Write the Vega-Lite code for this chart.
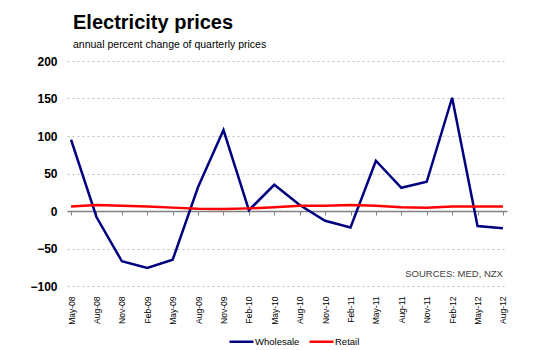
{
  "$schema": "https://vega.github.io/schema/vega-lite/v6.json",
  "width": 440,
  "height": 225,
  "autosize": {"type": "none"},
  "padding": {"left": 67, "top": 61, "right": 43, "bottom": 64},
  "background": "#ffffff",
  "config": {
    "view": {"stroke": null},
    "font": "Liberation Sans"
  },
  "title": {
    "text": "Electricity prices",
    "subtitle": "annual percent change of quarterly prices",
    "anchor": "start",
    "frame": "group",
    "font": "Liberation Sans",
    "fontSize": 20,
    "fontWeight": "bold",
    "color": "#000000",
    "subtitleFont": "Liberation Sans",
    "subtitleFontSize": 10.5,
    "subtitleColor": "#000000",
    "subtitlePadding": 7,
    "offset": 5,
    "dx": 6
  },
  "data": {
    "values": [
      {"date": "May-08", "series": "Wholesale", "value": 95},
      {"date": "Aug-08", "series": "Wholesale", "value": -8},
      {"date": "Nov-08", "series": "Wholesale", "value": -67},
      {"date": "Feb-09", "series": "Wholesale", "value": -76},
      {"date": "May-09", "series": "Wholesale", "value": -65},
      {"date": "Aug-09", "series": "Wholesale", "value": 32},
      {"date": "Nov-09", "series": "Wholesale", "value": 108},
      {"date": "Feb-10", "series": "Wholesale", "value": 1},
      {"date": "May-10", "series": "Wholesale", "value": 35},
      {"date": "Aug-10", "series": "Wholesale", "value": 8},
      {"date": "Nov-10", "series": "Wholesale", "value": -13},
      {"date": "Feb-11", "series": "Wholesale", "value": -22},
      {"date": "May-11", "series": "Wholesale", "value": 67},
      {"date": "Aug-11", "series": "Wholesale", "value": 31},
      {"date": "Nov-11", "series": "Wholesale", "value": 39},
      {"date": "Feb-12", "series": "Wholesale", "value": 151},
      {"date": "May-12", "series": "Wholesale", "value": -20},
      {"date": "Aug-12", "series": "Wholesale", "value": -23},
      {"date": "May-08", "series": "Retail", "value": 6},
      {"date": "Aug-08", "series": "Retail", "value": 8},
      {"date": "Nov-08", "series": "Retail", "value": 7},
      {"date": "Feb-09", "series": "Retail", "value": 6},
      {"date": "May-09", "series": "Retail", "value": 4.5},
      {"date": "Aug-09", "series": "Retail", "value": 3},
      {"date": "Nov-09", "series": "Retail", "value": 2.7},
      {"date": "Feb-10", "series": "Retail", "value": 3.5},
      {"date": "May-10", "series": "Retail", "value": 5},
      {"date": "Aug-10", "series": "Retail", "value": 7},
      {"date": "Nov-10", "series": "Retail", "value": 7},
      {"date": "Feb-11", "series": "Retail", "value": 8},
      {"date": "May-11", "series": "Retail", "value": 7},
      {"date": "Aug-11", "series": "Retail", "value": 5},
      {"date": "Nov-11", "series": "Retail", "value": 4.5},
      {"date": "Feb-12", "series": "Retail", "value": 6},
      {"date": "May-12", "series": "Retail", "value": 6},
      {"date": "Aug-12", "series": "Retail", "value": 6}
    ]
  },
  "encoding": {
    "x": {
      "field": "date",
      "type": "ordinal",
      "sort": ["May-08","Aug-08","Nov-08","Feb-09","May-09","Aug-09","Nov-09","Feb-10","May-10","Aug-10","Nov-10","Feb-11","May-11","Aug-11","Nov-11","Feb-12","May-12","Aug-12"],
      "scale": {"type": "point", "padding": 0.16},
      "axis": {
        "title": null,
        "orient": "bottom",
        "offset": -75,
        "grid": false,
        "domainColor": "#808080",
        "domainWidth": 1.5,
        "tickColor": "#808080",
        "tickSize": 4,
        "tickWidth": 1,
        "labelAngle": -90,
        "labelPadding": 81,
        "labelFontSize": 8.5,
        "labelColor": "#000000",
        "labelFont": "Liberation Sans"
      }
    },
    "y": {
      "field": "value",
      "type": "quantitative",
      "scale": {"domain": [-100, 200], "nice": false, "zero": false},
      "axis": {
        "title": null,
        "values": [-100, -50, 0, 50, 100, 150, 200],
        "domain": false,
        "ticks": false,
        "labelFontSize": 12,
        "labelFontWeight": "bold",
        "labelColor": "#000000",
        "labelPadding": 10,
        "labelFont": "Liberation Sans",
        "gridColor": "#c0c0c0",
        "gridDash": [2, 3],
        "gridWidth": 1
      }
    }
  },
  "layer": [
    {
      "transform": [{"filter": "datum.series === 'Wholesale'"}],
      "mark": {"type": "line", "strokeWidth": 2.5},
      "encoding": {
        "color": {
          "field": "series",
          "type": "nominal",
          "scale": {"domain": ["Wholesale", "Retail"], "range": ["#000080", "#ff0000"]},
          "legend": {
            "title": null,
            "orient": "none",
            "legendX": 161,
            "legendY": 267,
            "direction": "horizontal",
            "symbolType": "stroke",
            "symbolSize": 576,
            "symbolStrokeWidth": 2.5,
            "labelFontSize": 9.5,
            "labelColor": "#000000",
            "labelFont": "Liberation Sans",
            "labelOffset": 0,
            "columnPadding": 4,
            "padding": 0
          }
        }
      }
    },
    {
      "transform": [{"filter": "datum.series === 'Retail'"}],
      "mark": {"type": "line", "strokeWidth": 2.5},
      "encoding": {
        "color": {
          "field": "series",
          "type": "nominal",
          "scale": {"domain": ["Wholesale", "Retail"], "range": ["#000080", "#ff0000"]}
        }
      }
    },
    {
      "data": {"values": [{"date": "Aug-12", "value": -100, "label": "SOURCES: MED, NZX"}]},
      "mark": {"type": "text", "align": "right", "baseline": "alphabetic", "fontSize": 9.5, "fill": "#404040", "dy": -9, "font": "Liberation Sans"},
      "encoding": {
        "text": {"field": "label"}
      }
    }
  ]
}
